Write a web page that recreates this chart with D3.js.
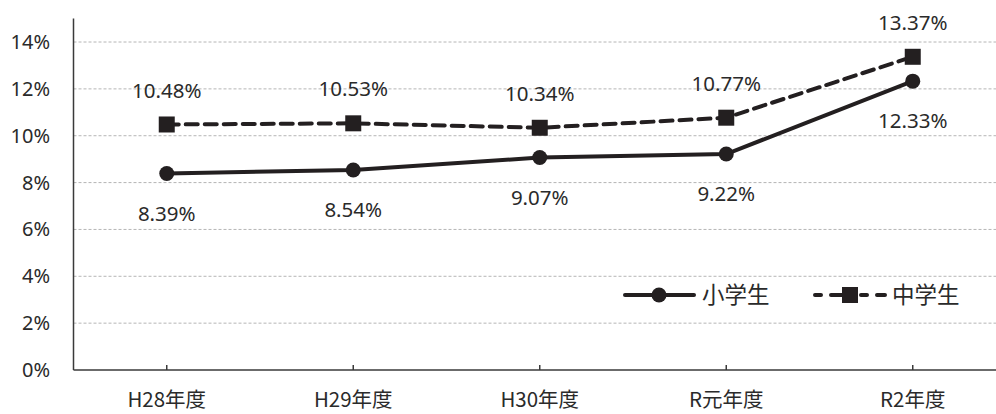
<!DOCTYPE html>
<html><head><meta charset="utf-8">
<script src="https://cdn.jsdelivr.net/npm/d3@7"></script>
<style>body{margin:0;background:#fff}svg{display:block}</style>
</head><body>
<svg id="c" width="996" height="414"></svg>
<script>
const categories = ["H28年度","H29年度","H30年度","R元年度","R2年度"];
const elementary = [8.39, 8.54, 9.07, 9.22, 12.33];
const juniorHigh = [10.48, 10.53, 10.34, 10.77, 13.37];
const yTicks = [0, 2, 4, 6, 8, 10, 12, 14];
const seriesNames = ["小学生", "中学生"];

(function () {
const svg = d3.select("#c");
const W = 996;
const mLeft = 73.5, mBottom = 370, mTop = 18.6;
const x = d3.scaleBand().domain(categories).range([mLeft, mLeft + 5*186.5]);
const y = d3.scaleLinear().domain([0, 15]).range([mBottom, mTop]);
const cx = d => x(d) + x.bandwidth()/2;
const numFont = "'Noto Sans', 'DejaVu Sans', sans-serif";
const cjkFont = "'Noto Sans CJK JP', 'Noto Sans', sans-serif";
const ink = "#231f20";
const txt = "#2a2a2a";

svg.append("g").selectAll("line").data(yTicks.filter(t => t > 0)).join("line")
  .attr("x1", mLeft).attr("x2", W).attr("y1", d => y(d)).attr("y2", d => y(d))
  .attr("stroke", "#b5b5b5").attr("stroke-width", 1).attr("stroke-dasharray", "3,2");

svg.append("g").selectAll("text").data(yTicks).join("text")
  .attr("x", 50).attr("y", d => y(d)).attr("dy", "0.35em")
  .attr("text-anchor", "end").attr("font-family", numFont).attr("font-size", 20)
  .attr("fill", txt).text(d => d + "%");

svg.append("line").attr("x1", mLeft).attr("x2", mLeft).attr("y1", mTop).attr("y2", mBottom)
  .attr("stroke", "#3a3a3a").attr("stroke-width", 1.5);
svg.append("line").attr("x1", mLeft).attr("x2", W).attr("y1", mBottom).attr("y2", mBottom)
  .attr("stroke", "#3a3a3a").attr("stroke-width", 1.5);
svg.append("g").selectAll("line").data(categories).join("line")
  .attr("x1", cx).attr("x2", cx).attr("y1", mBottom).attr("y2", mBottom - 5)
  .attr("stroke", "#3a3a3a").attr("stroke-width", 1.5);
svg.append("g").selectAll("text").data(categories).join("text")
  .attr("x", cx).attr("y", 400).attr("dy", "0.35em").attr("text-anchor", "middle")
  .attr("font-family", cjkFont).attr("font-size", 20.5).attr("fill", txt).text(d => d);

const line = d3.line().x((d, i) => cx(categories[i])).y(d => y(d));

svg.append("path").datum(juniorHigh).attr("d", line).attr("fill", "none")
  .attr("stroke", ink).attr("stroke-width", 4).attr("stroke-dasharray", "12,7")
  .attr("stroke-linecap", "round");
svg.append("g").selectAll("rect").data(juniorHigh).join("rect")
  .attr("x", (d, i) => cx(categories[i]) - 8).attr("y", d => y(d) - 8)
  .attr("width", 16).attr("height", 16).attr("fill", ink);

svg.append("path").datum(elementary).attr("d", line).attr("fill", "none")
  .attr("stroke", ink).attr("stroke-width", 4);
svg.append("g").selectAll("circle").data(elementary).join("circle")
  .attr("cx", (d, i) => cx(categories[i])).attr("cy", d => y(d)).attr("r", 7.5).attr("fill", ink);

svg.append("g").selectAll("text").data(juniorHigh).join("text")
  .attr("x", (d, i) => cx(categories[i])).attr("y", d => y(d) - 34).attr("dy", "0.35em")
  .attr("text-anchor", "middle").attr("font-family", numFont).attr("font-size", 20.5)
  .attr("fill", txt).text(d => d.toFixed(2) + "%");
svg.append("g").selectAll("text").data(elementary).join("text")
  .attr("x", (d, i) => cx(categories[i])).attr("y", d => y(d) + 40).attr("dy", "0.35em")
  .attr("text-anchor", "middle").attr("font-family", numFont).attr("font-size", 20.5)
  .attr("fill", txt).text(d => d.toFixed(2) + "%");

const ly = 295;
const lg = svg.append("g");
lg.append("line").attr("x1", 625).attr("x2", 694).attr("y1", ly).attr("y2", ly)
  .attr("stroke", ink).attr("stroke-width", 4).attr("stroke-linecap", "round");
lg.append("circle").attr("cx", 659).attr("cy", ly).attr("r", 7.5).attr("fill", ink);
lg.append("text").attr("x", 702).attr("y", ly).attr("dy", "0.35em")
  .attr("font-family", cjkFont).attr("font-size", 22.5).attr("fill", txt).text(seriesNames[0]);
lg.append("line").attr("x1", 815).attr("x2", 885).attr("y1", ly).attr("y2", ly)
  .attr("stroke", ink).attr("stroke-width", 4).attr("stroke-dasharray", "6,10,20,10")
  .attr("stroke-linecap", "round");
lg.append("rect").attr("x", 842).attr("y", ly - 8).attr("width", 16).attr("height", 16).attr("fill", ink);
lg.append("text").attr("x", 892).attr("y", ly).attr("dy", "0.35em")
  .attr("font-family", cjkFont).attr("font-size", 22.5).attr("fill", txt).text(seriesNames[1]);
})();
</script>
</body></html>
